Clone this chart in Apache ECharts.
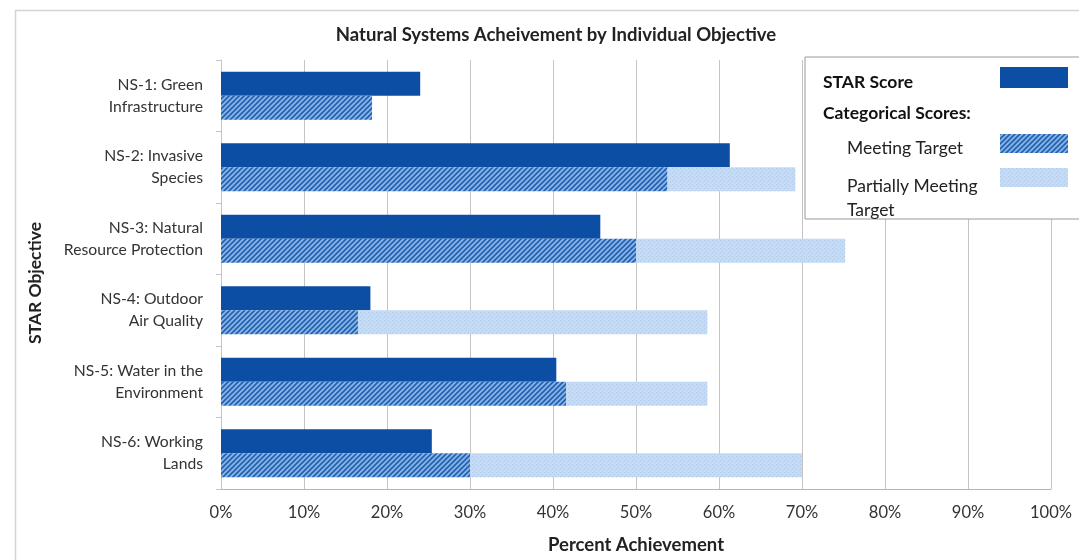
<!DOCTYPE html>
<html>
<head>
<meta charset="utf-8">
<script src="https://cdn.jsdelivr.net/npm/echarts@6/dist/echarts.min.js"></script>
<style>
  html, body { margin: 0; padding: 0; background: #fff; }
  #chart { width: 1079px; height: 560px; }
</style>
</head>
<body>
<div id="chart"></div>
<script>
// Objectives (top to bottom)
const objectives = [
  'NS-1: Green\nInfrastructure',
  'NS-2: Invasive\nSpecies',
  'NS-3: Natural\nResource Protection',
  'NS-4: Outdoor\nAir Quality',
  'NS-5: Water in the\nEnvironment',
  'NS-6: Working\nLands'
];
// STAR score (%)
const starScore = [24, 61.3, 45.7, 18, 40.4, 25.4];
// Categorical scores (%): meeting target, and the additional share partially meeting target
const meetingTarget = [18.2, 53.8, 50, 16.5, 41.6, 30];
const partiallyMeeting = [0, 15.4, 25.2, 42.1, 17, 40];
// Value axis ticks
const xTicks = [0, 10, 20, 30, 40, 50, 60, 70, 80, 90, 100];

const FONT = 'Lato, "Open Sans", sans-serif';
const STAR_COLOR = '#0c4ea3';

// Diagonal hatch fill for "Meeting Target"
function hatchPattern() {
  const c = document.createElement('canvas');
  c.width = 5; c.height = 5;
  const g = c.getContext('2d');
  g.fillStyle = '#8ab4e6';
  g.fillRect(0, 0, 5, 5);
  g.strokeStyle = '#2160b0';
  g.lineWidth = 1.6;
  g.beginPath();
  g.moveTo(-1, 6); g.lineTo(6, -1);
  g.moveTo(-1, 1); g.lineTo(1, -1);
  g.moveTo(4, 6); g.lineTo(6, 4);
  g.stroke();
  return c;
}
// Light dotted fill for "Partially Meeting Target"
function dotPattern() {
  const c = document.createElement('canvas');
  c.width = 4; c.height = 4;
  const g = c.getContext('2d');
  g.fillStyle = '#c6daf2';
  g.fillRect(0, 0, 4, 4);
  g.fillStyle = '#b0cae9';
  g.fillRect(0, 0, 1, 1);
  g.fillRect(2, 2, 1, 1);
  return c;
}
const hatchFill = { image: hatchPattern(), repeat: 'repeat' };
const dotFill = { image: dotPattern(), repeat: 'repeat' };

const chart = echarts.init(document.getElementById('chart'), null, { renderer: 'canvas' });

const legendX = 805, legendY = 57;
const option = {
  animation: false,
  backgroundColor: '#fff',
  textStyle: { fontFamily: FONT },
  title: {
    text: 'Natural Systems Acheivement by Individual Objective',
    left: 551, top: 21, textAlign: 'center',
    textStyle: { fontFamily: FONT, fontSize: 18.5, fontWeight: 'bold', color: '#222' }
  },
  grid: { left: 221, right: 28, top: 60, bottom: 70, containLabel: false },
  xAxis: {
    type: 'value', min: 0, max: 100, interval: 10,
    name: 'Percent Achievement', nameLocation: 'middle', nameGap: 47,
    nameTextStyle: { fontFamily: FONT, fontSize: 18.5, fontWeight: 'bold', color: '#222' },
    axisLine: { show: true, lineStyle: { color: '#b5b5b5' } },
    axisTick: { show: false },
    axisLabel: {
      margin: 15, fontSize: 16.5, color: '#333',
      formatter: v => (xTicks.includes(v) ? v + '%' : '')
    },
    splitLine: { show: true, lineStyle: { color: '#c4c4c4', width: 1 } }
  },
  yAxis: {
    type: 'category', data: objectives, inverse: true,
    axisLine: { show: true, lineStyle: { color: '#c4c4c4' } },
    axisTick: { show: true, length: 5, lineStyle: { color: '#c4c4c4' } },
    axisLabel: { margin: 18, fontSize: 15.7, color: '#333', lineHeight: 22, align: 'right',
                 padding: [6, 0, 0, 0] }
  },
  series: [
    {
      name: 'STAR Score', type: 'bar', data: starScore,
      barGap: '0%', barCategoryGap: '33%',
      itemStyle: { color: STAR_COLOR }
    },
    {
      name: 'Meeting Target', type: 'bar', stack: 'cat', data: meetingTarget,
      itemStyle: { color: hatchFill }
    },
    {
      name: 'Partially Meeting Target', type: 'bar', stack: 'cat', data: partiallyMeeting,
      itemStyle: { color: dotFill }
    }
  ],
  graphic: [
    { type: 'rect', left: 13, top: 8, z: -1, silent: true,
      shape: { width: 1100, height: 600 },
      style: { fill: 'none', stroke: '#d4d4d4', lineWidth: 1.5 } },
    // Vertical axis title
    { type: 'text', x: 35, y: 283, rotation: Math.PI / 2, z: 10,
      style: { text: 'STAR Objective', font: 'bold 17.5px ' + FONT, fill: '#222',
               align: 'center', verticalAlign: 'middle' } },
    // Legend panel
    { type: 'rect', x: legendX, y: legendY, z: 100,
      shape: { width: 290, height: 162 },
      style: { fill: '#fff', stroke: '#9a9a9a', lineWidth: 1 } },
    { type: 'text', x: 823, y: 73, z: 101,
      style: { text: 'STAR Score', font: 'bold 17.5px ' + FONT, fill: '#111' } },
    { type: 'rect', x: 1000, y: 67, z: 101, shape: { width: 68, height: 21 },
      style: { fill: STAR_COLOR } },
    { type: 'text', x: 823, y: 104, z: 101,
      style: { text: 'Categorical Scores:', font: 'bold 17.5px ' + FONT, fill: '#111' } },
    { type: 'text', x: 847, y: 139, z: 101,
      style: { text: 'Meeting Target', font: '17.5px ' + FONT, fill: '#222' } },
    { type: 'rect', x: 1000, y: 134, z: 101, shape: { width: 68, height: 19 },
      style: { fill: hatchFill } },
    { type: 'text', x: 847, y: 174, z: 101,
      style: { text: 'Partially Meeting\nTarget', font: '17.5px ' + FONT, fill: '#222', lineHeight: 24 } },
    { type: 'rect', x: 1000, y: 168, z: 101, shape: { width: 68, height: 19 },
      style: { fill: dotFill } }
  ]
};
chart.setOption(option);
</script>
</body>
</html>
